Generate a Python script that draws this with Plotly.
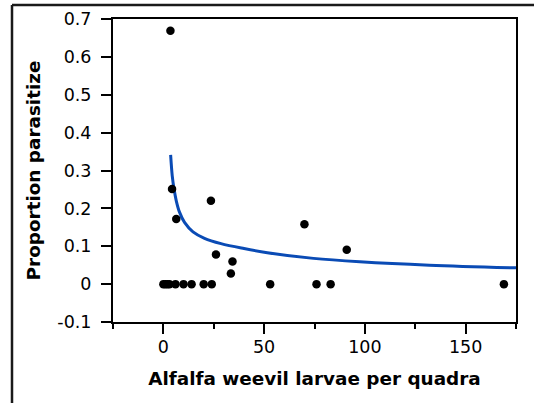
import plotly.graph_objects as go

# Observed points
larvae = [0, 1, 2, 3, 6, 10, 14, 20, 24, 53, 76, 83, 169,
          3.5, 4.3, 6.4, 23.6, 26.1, 34.3, 33.5, 70, 91]
proportion = [0, 0, 0, 0, 0, 0, 0, 0, 0, 0, 0, 0, 0,
              0.669, 0.251, 0.172, 0.220, 0.078, 0.060, 0.028, 0.158, 0.091]

# Fitted curve
curve_x = [3.6, 4.4, 5.3, 6.4, 8.0, 10.5, 14.7, 20.4, 28.6, 40, 51.6, 74.5, 97.5, 132, 175]
curve_y = [0.341, 0.286, 0.251, 0.220, 0.190, 0.163, 0.138, 0.121, 0.107, 0.094, 0.083, 0.068, 0.059, 0.050, 0.043]

y_ticks = [-0.1, 0, 0.1, 0.2, 0.3, 0.4, 0.5, 0.6, 0.7]
y_tick_labels = ["-0.1", "0", "0.1", "0.2", "0.3", "0.4", "0.5", "0.6", "0.7"]
x_ticks = [0, 50, 100, 150]
x_tick_labels = ["0", "50", "100", "150"]

FONT = "DejaVu Sans, Verdana, sans-serif"

fig = go.Figure()
fig.add_trace(go.Scatter(x=curve_x, y=curve_y, mode="lines",
                         line=dict(color="#0a4bb5", width=3, shape="spline", smoothing=1.0),
                         hoverinfo="skip", showlegend=False))
fig.add_trace(go.Scatter(x=larvae, y=proportion, mode="markers",
                         marker=dict(color="black", size=8.5), showlegend=False))

W, H = 534, 403
L, R, T, B = 113, 18, 19, 81
pw, ph = W - L - R, H - T - B

fig.update_layout(
    width=W, height=H,
    margin=dict(l=L, r=R, t=T, b=B, pad=0, autoexpand=False),
    paper_bgcolor="white", plot_bgcolor="white",
    font=dict(family=FONT, color="black", size=17.5),
    xaxis=dict(range=[-25.0001, 175.0001], tickvals=x_ticks, ticktext=x_tick_labels,
               ticks="outside", ticklen=10, tickwidth=1.5, tickcolor="black",
               showline=True, linewidth=2, linecolor="black", mirror=True,
               showgrid=False, zeroline=False,
               minor=dict(ticks="outside", ticklen=5, tickwidth=1.5, tickcolor="black",
                          tick0=-25, dtick=25, showgrid=False),
               tickfont=dict(size=17.5), ticklabelstandoff=-2,
               title=dict(text="<b>Alfalfa weevil larvae per quadra</b>",
                          font=dict(size=18.4), standoff=16)),
    yaxis=dict(range=[-0.1, 0.7], tickvals=y_ticks, ticktext=y_tick_labels,
               ticks="outside", ticklen=10, tickwidth=1.5, tickcolor="black",
               showline=True, linewidth=2, linecolor="black", mirror=True,
               showgrid=False, zeroline=False,
               tickfont=dict(size=17.5), ticklabelstandoff=6,
               title=dict(text="<b>Proportion parasitize</b>",
                          font=dict(size=18.4), standoff=12)),
)

# Outer figure frame (top and left edges visible)
x_left = (12 - L) / pw
y_top = 1 + (T - 5) / ph
fig.add_shape(type="line", xref="paper", yref="paper",
              x0=x_left, x1=1 + R / pw + 0.01, y0=y_top, y1=y_top,
              line=dict(color="#1a1a1a", width=2.5))
fig.add_shape(type="line", xref="paper", yref="paper",
              x0=x_left, x1=x_left, y0=y_top, y1=-B / ph - 0.01,
              line=dict(color="#1a1a1a", width=2.5))

fig.write_html("out.html", config={"displayModeBar": False},
               post_script="document.body.style.margin='0';")
